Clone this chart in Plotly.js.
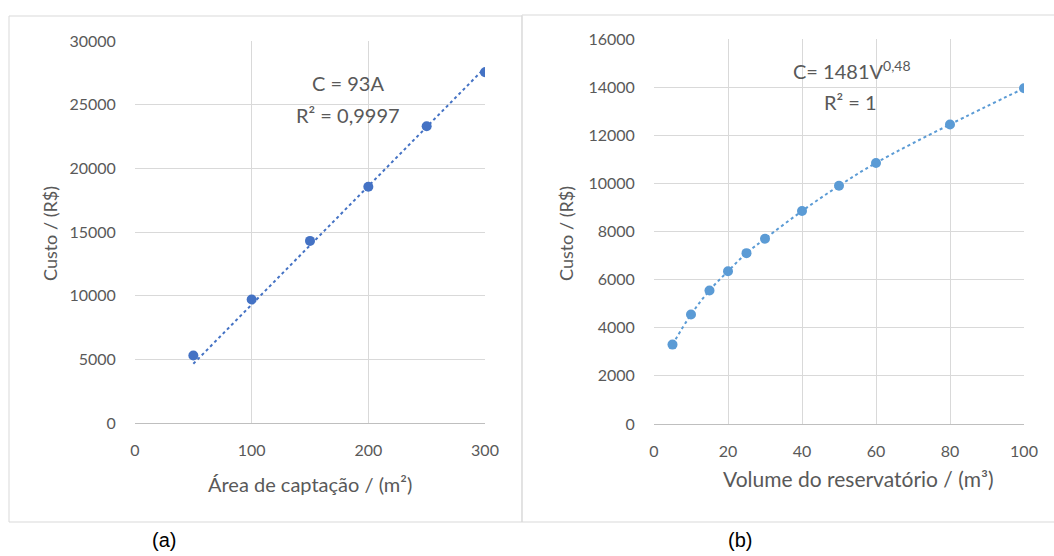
<!DOCTYPE html>
<html>
<head>
<meta charset="utf-8">
<script src="https://cdn.plot.ly/plotly-3.0.1.min.js"></script>
<style>html,body{margin:0;padding:0;background:#fff;}#chart{width:1054px;height:556px;}</style>
</head>
<body>
<div id="chart"></div>
<script>
// Chart (a): catchment area vs cost
const areaX = [50, 100, 150, 200, 250, 300];
const areaCost = [5300, 9700, 14300, 18550, 23300, 27550];
const areaTrendX = [50, 300];
const areaTrendY = [4650, 27900];
// Chart (b): reservoir volume vs cost
const volX = [5, 10, 15, 20, 25, 30, 40, 50, 60, 80, 100];
const volCost = [3300, 4550, 5550, 6350, 7100, 7700, 8850, 9900, 10850, 12450, 13950];
// Tick labels
const areaTicks = [0, 100, 200, 300];
const areaCostTicks = [0, 5000, 10000, 15000, 20000, 25000, 30000];
const volTicks = [0, 20, 40, 60, 80, 100];
const volCostTicks = [0, 2000, 4000, 6000, 8000, 10000, 12000, 14000, 16000];

const W = 1054, H = 556;
const px = v => v / W;
const py = v => 1 - v / H;
const FONT = 'Lato, "Open Sans", sans-serif';
const GRAY = '#595959';
const colA = '#4472c4';
const colB = '#5b9bd5';

const traces = [
  {x: areaTrendX, y: areaTrendY, mode: 'lines', xaxis: 'x', yaxis: 'y',
   line: {color: colA, width: 2, dash: 'dot'}, hoverinfo: 'skip'},
  {x: areaX, y: areaCost, mode: 'markers', xaxis: 'x', yaxis: 'y',
   marker: {color: colA, size: 10}},
  {x: volX, y: volCost, mode: 'lines+markers', xaxis: 'x2', yaxis: 'y2',
   line: {color: colB, width: 2, dash: 'dot', shape: 'spline'},
   marker: {color: colB, size: 10}}
];

function xax(domain, range, ticks) {
  return {domain: domain, range: range, tickvals: ticks, ticktext: ticks.map(String),
    showgrid: true, gridcolor: '#d9d9d9', gridwidth: 1, zeroline: false,
    showline: true, linecolor: '#bfbfbf', linewidth: 1,
    ticks: 'outside', ticklen: 13, tickcolor: 'rgba(0,0,0,0)',
    tickfont: {family: FONT, size: 16, color: GRAY}, fixedrange: true};
}
function yax(domain, range, ticks) {
  return {domain: domain, range: range, tickvals: ticks, ticktext: ticks.map(String),
    showgrid: true, gridcolor: '#d9d9d9', gridwidth: 1, zeroline: false,
    showline: false,
    ticks: 'outside', ticklen: 15, tickcolor: 'rgba(0,0,0,0)',
    tickfont: {family: FONT, size: 16, color: GRAY}, fixedrange: true};
}

const layout = {
  width: W, height: H, showlegend: false,
  margin: {l: 0, r: 0, t: 0, b: 0},
  paper_bgcolor: '#fff', plot_bgcolor: '#fff',
  xaxis: Object.assign(xax([px(135), px(485)], [0, 300], areaTicks), {anchor: 'y'}),
  yaxis: Object.assign(yax([py(423), py(41)], [0, 30000], areaCostTicks), {anchor: 'x'}),
  xaxis2: Object.assign(xax([px(654), px(1024)], [0, 100], volTicks), {anchor: 'y2'}),
  yaxis2: Object.assign(yax([py(424), py(39)], [0, 16000], volCostTicks), {anchor: 'x2'}),
  shapes: [
    {type: 'rect', xref: 'paper', yref: 'paper', x0: px(9), x1: px(522), y0: py(522), y1: py(16),
     line: {color: '#d9d9d9', width: 1}, layer: 'below'},
    {type: 'rect', xref: 'paper', yref: 'paper', x0: px(522), x1: px(1060), y0: py(522), y1: py(15),
     line: {color: '#d9d9d9', width: 1}, layer: 'below'}
  ],
  annotations: [
    {text: 'Custo / (R$)', xref: 'paper', yref: 'paper', x: px(50), y: py(234), textangle: -90,
     showarrow: false, xanchor: 'center', yanchor: 'middle', font: {family: FONT, size: 18, color: GRAY}},
    {text: 'Área de captação / (m²)', xref: 'paper', yref: 'paper', x: px(310), y: py(484),
     showarrow: false, xanchor: 'center', yanchor: 'middle', font: {family: FONT, size: 20, color: GRAY}},
    {text: 'Custo / (R$)', xref: 'paper', yref: 'paper', x: px(566), y: py(234), textangle: -90,
     showarrow: false, xanchor: 'center', yanchor: 'middle', font: {family: FONT, size: 18, color: GRAY}},
    {text: 'Volume do reservatório / (m³)', xref: 'paper', yref: 'paper', x: px(858), y: py(478),
     showarrow: false, xanchor: 'center', yanchor: 'middle', font: {family: FONT, size: 21, color: GRAY}},
    {text: 'C = 93A', xref: 'paper', yref: 'paper', x: px(348), y: py(83),
     showarrow: false, xanchor: 'center', yanchor: 'middle', font: {family: FONT, size: 20, color: GRAY}},
    {text: 'R² = 0,9997', xref: 'paper', yref: 'paper', x: px(348), y: py(115),
     showarrow: false, xanchor: 'center', yanchor: 'middle', font: {family: FONT, size: 20, color: GRAY}},
    {text: 'C= 1481V<sup>0,48</sup>', xref: 'paper', yref: 'paper', x: px(852), y: py(70),
     showarrow: false, xanchor: 'center', yanchor: 'middle', font: {family: FONT, size: 20, color: GRAY}},
    {text: 'R² = 1', xref: 'paper', yref: 'paper', x: px(850), y: py(102),
     showarrow: false, xanchor: 'center', yanchor: 'middle', font: {family: FONT, size: 20, color: GRAY}},
    {text: '(a)', xref: 'paper', yref: 'paper', x: px(164), y: py(540),
     showarrow: false, xanchor: 'center', yanchor: 'middle', font: {family: '"Liberation Sans", Arial, sans-serif', size: 20, color: '#000'}},
    {text: '(b)', xref: 'paper', yref: 'paper', x: px(740), y: py(540),
     showarrow: false, xanchor: 'center', yanchor: 'middle', font: {family: '"Liberation Sans", Arial, sans-serif', size: 20, color: '#000'}}
  ]
};

Plotly.newPlot('chart', traces, layout, {displayModeBar: false, staticPlot: true});
</script>
</body>
</html>
